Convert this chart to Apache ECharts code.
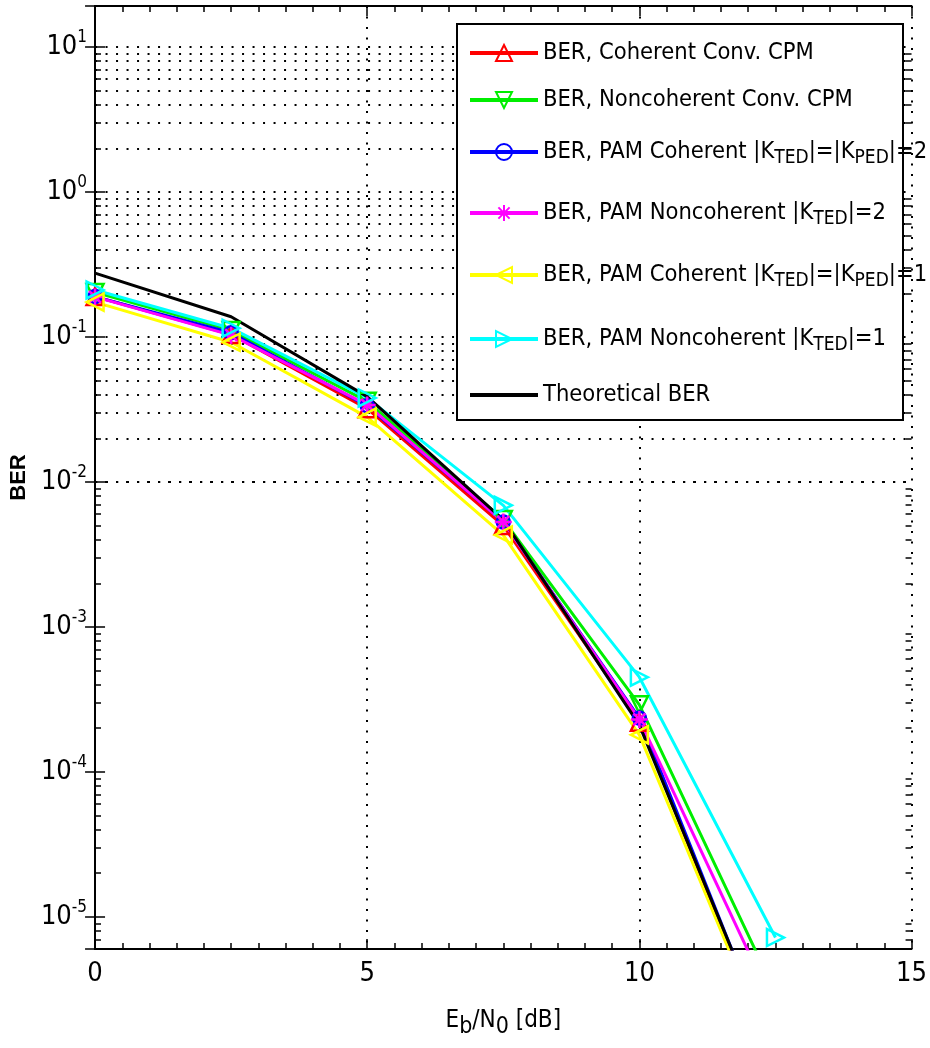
<!DOCTYPE html>
<html><head><meta charset="utf-8">
<script src="https://cdn.jsdelivr.net/npm/echarts@6/dist/echarts.min.js"></script>
<style>html,body{margin:0;padding:0;background:#fff}#c{width:930px;height:1048px}</style>
</head><body><div id="c"></div>
<script>
// ---- data ----
const ebn0 = [0, 2.5, 5, 7.5, 10, 12.5];
const berCohConv    = [0.190, 0.104, 0.032, 0.0050, 2.2e-4, 1.0e-6];
const berNoncohConv = [0.203, 0.111, 0.036, 0.0055, 2.9e-4, 3.0e-6];
const berPamCoh2    = [0.190, 0.107, 0.0335, 0.0053, 2.35e-4, 1.05e-6];
const berPamNoncoh2 = [0.189, 0.103, 0.034, 0.0053, 2.3e-4, 2.3e-6];
const berPamCoh1    = [0.174, 0.092, 0.028, 0.0043, 1.8e-4, 1.0e-6];
const berPamNoncoh1 = [0.211, 0.115, 0.038, 0.0069, 4.5e-4, 7.2e-6];
const berTheory     = [0.276, 0.138, 0.0388, 0.00547, 2.1e-4, 1.1e-6];
const seriesNames = [
  'BER, Coherent Conv. CPM',
  'BER, Noncoherent Conv. CPM',
  'BER, PAM Coherent |K_TED|=|K_PED|=2',
  'BER, PAM Noncoherent |K_TED|=2',
  'BER, PAM Coherent |K_TED|=|K_PED|=1',
  'BER, PAM Noncoherent |K_TED|=1',
  'Theoretical BER'
];
const yDecadeExps = [-6, -5, -4, -3, -2, -1, 0, 1];
const minorMantissas = [1, 2, 3, 4, 5, 6, 7, 8, 9];
const xTickLabels = [0, 5, 10, 15];
const xMin = 0, xMax = 15;
const yMin = 6.0e-6, yMax = 19.2;

// ---- styles ----
const FONT = "'Liberation Sans Narrow', 'DejaVu Sans Condensed', 'Liberation Sans', sans-serif";
const asterisk = 'path://M5,0 L5,10 M0,5 L10,5 M1.5,1.5 L8.5,8.5 M1.5,8.5 L8.5,1.5';
const styles = [
  {color: '#ff0000', symbol: 'triangle', rot: 0},
  {color: '#00ee00', symbol: 'triangle', rot: 180},
  {color: '#0000ff', symbol: 'circle', rot: 0},
  {color: '#ff00ff', symbol: asterisk, rot: 0},
  {color: '#ffff00', symbol: 'triangle', rot: 90},
  {color: '#00ffff', symbol: 'triangle', rot: -90},
  {color: '#000000', symbol: 'none', rot: 0}
];
const allData = [berCohConv, berNoncohConv, berPamCoh2, berPamNoncoh2, berPamCoh1, berPamNoncoh1, berTheory];

const gridVals = [];
yDecadeExps.forEach(e => minorMantissas.forEach(m => {
  const v = m * Math.pow(10, e);
  if (v > yMin * 1.01 && v < yMax * 0.99) gridVals.push(v);
}));
const minorTickVals = gridVals.filter(v => Math.abs(Math.log10(v) - Math.round(Math.log10(v))) > 1e-6);
const minorTickLen = 0.11; // in x-axis units (about 6 px)

const series = allData.map((d, i) => ({
  name: seriesNames[i],
  type: 'line',
  data: ebn0.map((x, k) => [x, d[k]]),
  symbol: styles[i].symbol,
  symbolRotate: styles[i].rot,
  symbolSize: styles[i].symbol === 'circle' ? 13 : 17,
  showSymbol: styles[i].symbol !== 'none',
  clip: true,
  z: 3,
  lineStyle: {color: styles[i].color, width: 3},
  itemStyle: {color: 'rgba(255,255,255,0)', borderColor: styles[i].color, borderWidth: 2.5},
  emphasis: {disabled: true},
  animation: false
}));
series.push({
  name: 'grid', type: 'line', data: [], z: 1, silent: true, animation: false,
  markLine: {
    z: 1,
    silent: true, symbol: ['none', 'none'], animation: false,
    label: {show: false},
    lineStyle: {color: '#000', width: 2, type: [2, 8.5]},
    emphasis: {disabled: true},
    data: gridVals.map(v => ({yAxis: v}))
  }
});
series.push({
  name: 'minorTicks', type: 'line', data: [], z: 1, silent: true, animation: false,
  markLine: {
    z: 1,
    silent: true, symbol: ['none', 'none'], animation: false,
    label: {show: false},
    lineStyle: {color: '#000', width: 1.5, type: 'solid'},
    emphasis: {disabled: true},
    data: minorTickVals.map(v => [{coord: [xMin, v]}, {coord: [xMin + minorTickLen, v]}])
      .concat(minorTickVals.map(v => [{coord: [xMax - minorTickLen, v]}, {coord: [xMax, v]}]))
  }
});

const sub = (s) => s.replace(/_(\w+)/g, '{sub|$1}');
const legendCenters = [50, 97, 150, 211, 273, 337, 392];
const legends = seriesNames.map((n, i) => {
  const hasSub = n.indexOf('_') >= 0;
  const isTheory = styles[i].symbol === 'none';
  return {
    data: [isTheory ? {name: n, itemStyle: {opacity: 0}} : n],
    left: 463,
    top: legendCenters[i] - (hasSub ? 15 : 14),
    itemWidth: 68, itemHeight: 20, itemGap: 0,
    selectedMode: false,
    z: 6,
    lineStyle: {width: 4},
    formatter: (name) => sub(name),
    textStyle: {
      fontFamily: FONT, fontSize: 23.5, color: '#000',
      rich: {sub: {fontFamily: FONT, fontSize: 19, color: '#000', padding: [12, 0, 0, 0]}}
    }
  };
});

const axisLineStyle = {color: '#000', width: 2};
const option = {
  animation: false,
  backgroundColor: '#fff',
  grid: {left: 94, right: 16, top: 6, bottom: 99},
  legend: legends,
  graphic: [{
    type: 'rect', shape: {x: 457, y: 24, width: 446, height: 396},
    style: {fill: '#fff', stroke: '#000', lineWidth: 2}, z: 4, silent: true
  }],
  xAxis: [{
    type: 'value', min: xMin, max: xMax, interval: 5,
    name: 'E{sub|b}/N{sub|0} [dB]', nameLocation: 'middle', nameGap: 53,
    nameTextStyle: {fontFamily: FONT, fontSize: 24, color: '#000',
      rich: {sub: {fontFamily: FONT, fontSize: 23, color: '#000', padding: [14, 0, 0, 0]}}},
    axisLine: {lineStyle: axisLineStyle},
    axisTick: {inside: true, length: 10, lineStyle: {color: '#000', width: 1.5}},
    minorTick: {show: true, splitNumber: 10, length: 6, lineStyle: {color: '#000', width: 1.5}},
    axisLabel: {fontFamily: FONT, fontSize: 27, color: '#000', margin: 11,
      formatter: (v) => xTickLabels.includes(v) ? String(v) : ''},
    splitLine: {show: true, lineStyle: {color: '#000', width: 2, type: [2, 8.5]}}
  }, {
    type: 'value', min: xMin, max: xMax, interval: 5, position: 'top',
    axisLine: {show: true, lineStyle: axisLineStyle},
    axisTick: {show: true, inside: true, length: 10, lineStyle: {color: '#000', width: 1.5}},
    minorTick: {show: true, splitNumber: 10, length: 6, lineStyle: {color: '#000', width: 1.5}},
    axisLabel: {show: false}, splitLine: {show: false}
  }],
  yAxis: [{
    type: 'log', min: yMin, max: yMax, logBase: 10,
    name: 'BER', nameLocation: 'middle', nameGap: 56, nameRotate: 90,
    nameTextStyle: {fontFamily: "'Liberation Sans', Arial, sans-serif", fontSize: 22, fontWeight: 'bold', color: '#000'},
    axisLine: {lineStyle: axisLineStyle},
    axisTick: {inside: true, length: 10, lineStyle: {color: '#000', width: 1.5}},
    axisLabel: {
      showMinLabel: false, showMaxLabel: false, margin: 8,
      formatter: (v) => {
        const e = Math.log10(v);
        if (Math.abs(e - Math.round(e)) > 1e-6) return '';
        return '{b|10}{s|' + Math.round(e) + '}';
      },
      rich: {
        b: {fontFamily: FONT, fontSize: 27, color: '#000'},
        s: {fontFamily: FONT, fontSize: 17, color: '#000', padding: [0, 0, 18, 0]}
      }
    },
    splitLine: {show: false}
  }, {
    type: 'log', min: yMin, max: yMax, logBase: 10, position: 'right',
    axisLine: {show: true, lineStyle: axisLineStyle},
    axisTick: {show: true, inside: true, length: 10, lineStyle: {color: '#000', width: 1.5}},
    axisLabel: {show: false}, splitLine: {show: false}
  }],
  series: series
};
const chart = echarts.init(document.getElementById('c'), null, {renderer: 'canvas'});
chart.setOption(option);
</script>
</body></html>
